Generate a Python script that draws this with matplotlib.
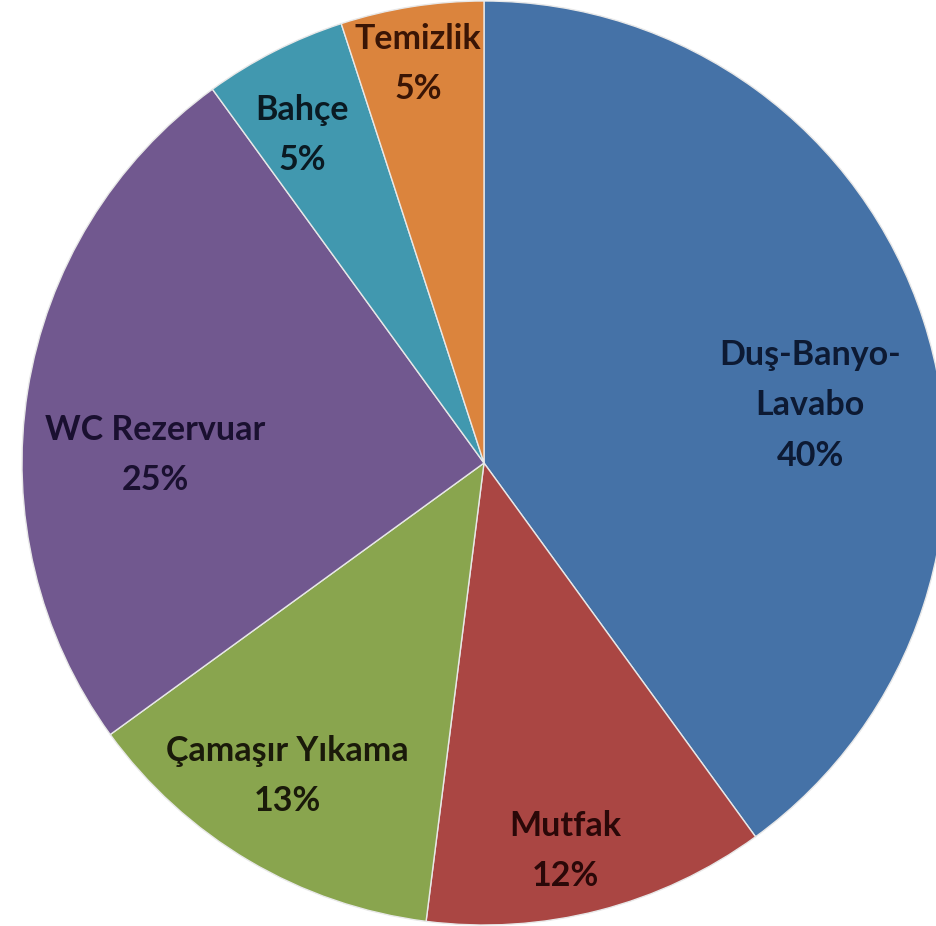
import numpy as np
import matplotlib.pyplot as plt

# water usage shares (clockwise from 12 o'clock)
categories = ["Duş-Banyo-\nLavabo", "Mutfak", "Çamaşır Yıkama", "WC Rezervuar", "Bahçe", "Temizlik"]
shares = [40, 12, 13, 25, 5, 5]
colors = ["#4572A7", "#AA4643", "#89A54E", "#71588F", "#4198AF", "#DB843D"]
text_colors = ["#0d1a33", "#2a0808", "#1a1a0a", "#1a1030", "#0a1a22", "#3a1505"]

# label placement tweaks (radius fraction, angle offset from wedge middle in deg)
label_dist = [0.717, 0.858, 0.80, 0.712, 0.812, 0.875]
label_shift = [-8, -2.6, -1.5, 7.6, 2, 0.4]

fig = plt.figure(figsize=(9.36, 9.26), dpi=100)
ax = fig.add_axes([0, 0, 1, 1])

labels = [f"{c}\n{s}%" for c, s in zip(categories, shares)]
wedges, texts = ax.pie(shares, colors=colors, startangle=90, counterclock=False,
                       labels=labels, labeldistance=0.8,
                       wedgeprops=dict(edgecolor="#e8e8e8", linewidth=1))

for i, (w, t) in enumerate(zip(wedges, texts)):
    ang = np.deg2rad((w.theta1 + w.theta2) / 2 + label_shift[i])
    t.set_position((label_dist[i] * np.cos(ang), label_dist[i] * np.sin(ang)))
    t.set_ha("center")
    t.set_va("center")
    t.set_fontsize(24.5)
    t.set_fontweight("bold")
    t.set_family("Lato")
    t.set_color(text_colors[i])
    t.set_linespacing(1.7)

r = 462
ax.set_xlim(-484 / r, (936 - 484) / r)
ax.set_ylim(-463 / r, 463 / r)
ax.set_aspect("equal")
ax.axis("off")

fig.savefig("out.png", dpi=100)
